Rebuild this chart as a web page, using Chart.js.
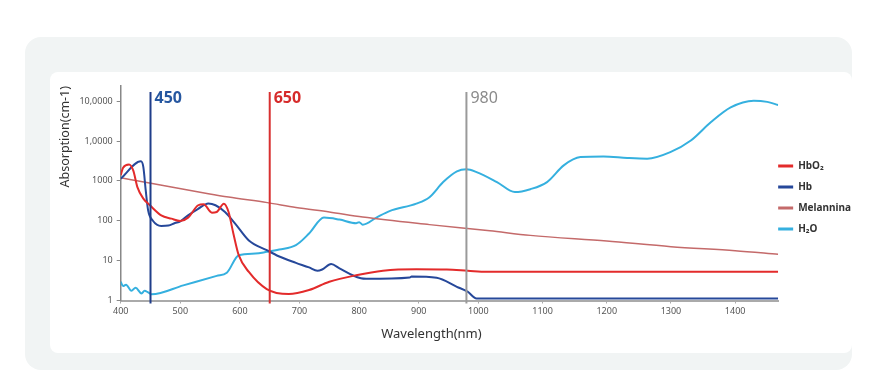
<!DOCTYPE html>
<html>
<head>
<meta charset="utf-8">
<script src="https://cdn.jsdelivr.net/npm/chart.js@4.4.0/dist/chart.umd.min.js"></script>
<style>
    body { margin: 0; background: #fff; font-family: "Noto Sans", sans-serif; }
    .outer { position: absolute; left: 25px; top: 37px; width: 827px; height: 333px; background: #f1f4f4; border-radius: 16px; }
    .inner { position: absolute; left: 50px; top: 72px; width: 802px; height: 281px; background: #fff; border-radius: 8px; }
</style>
</head>
<body>
<div class="outer"></div>
<div class="inner"><canvas id="myChart"></canvas></div>
<script>
    // values (wavelength in nm, absorption in cm-1)
    const hbo2Wavelengths = [400, 404, 414, 421, 428, 438, 449, 468, 485, 500, 513, 530, 539, 553, 561, 573, 581, 589, 598, 615, 645, 682, 716, 750, 795, 840, 896, 947, 982, 1013, 1467];
    const hbo2Values = [1380, 2140, 2580, 1830, 700, 359, 245, 137, 113, 99, 120, 245, 260, 160, 166, 269, 166, 48, 13.7, 5.2, 1.94, 1.45, 1.83, 2.95, 4.3, 5.6, 6.1, 6.0, 5.6, 5.25, 5.25];

    const hbWavelengths = [400, 434, 438, 442, 446, 454, 468, 480, 491, 500, 513, 530, 547, 559, 575, 592, 615, 645, 665, 694, 716, 730, 738, 753, 767, 789, 803, 812, 885, 888, 930, 964, 982, 997, 1467];
    const hbValues = [1135, 3090, 2210, 575, 183, 100, 74, 76, 88, 97, 137, 200, 270, 245, 166, 85, 32, 18.3, 12.9, 8.8, 6.75, 5.55, 6.0, 8.2, 6.4, 4.3, 3.6, 3.5, 3.8, 4.0, 3.7, 2.2, 1.66, 1.13, 1.12];

    const melWavelengths = [400, 446, 547, 581, 646, 694, 750, 806, 918, 1018, 1081, 1200, 1300, 1400, 1467];
    const melValues = [1200, 900, 478, 393, 285, 215, 166, 124, 80, 56, 43, 31, 22.4, 17.8, 14.5];

    const h2oWavelengths = [400, 404, 409, 418, 425, 435, 440, 446, 452, 505, 561, 578, 598, 626, 645, 666, 694, 716, 741, 767, 795, 800, 806, 829, 851, 896, 918, 941, 964, 980, 997, 1029, 1057, 1081, 1107, 1133, 1159, 1195, 1232, 1263, 1299, 1331, 1362, 1393, 1429, 1450, 1467];
    const h2oValues = [2.95, 2.3, 2.5, 1.76, 2.1, 1.5, 1.76, 1.6, 1.43, 2.4, 4.15, 4.95, 13.7, 15, 16.6, 19, 24.4, 47.8, 120, 107, 87, 92, 80, 120, 175, 269, 390, 933, 1730, 1950, 1660, 933, 525, 620, 933, 2450, 3950, 4100, 3750, 3600, 5250, 10300, 29500, 70000, 103000, 96000, 80000];

    const xTicks = [400, 500, 600, 700, 800, 900, 1000, 1100, 1200, 1300, 1400];
    const yTicks = [1, 10, 100, 1000, 10000, 100000];
    const yTickLabels = ['1', '10', '100', '1000', '1,0000', '10,0000'];
    const xTitle = 'Wavelength(nm)';

    const markerValues = [450, 650, 980];
    const markerLabels = ['450', '650', '980'];
    const markerColors = ['#1f3d8a', '#d83030', '#9a9a9a'];
    const markerTextColors = ['#2657a0', '#d62a2a', '#8a8a8a'];
    const markerWeights = ['bold', 'bold', 'normal'];

    // the x axis of the picture is wider per 100 nm after 1000 nm
    const xBreak = 1000;
    const xStretch = 1.077;

    class WarpScale extends Chart.LinearScale {
        warp(v) {
            return v <= xBreak ? v : xBreak + (v - xBreak) * xStretch;
        }
        getPixelForValue(v) {
            if (v === null || v === undefined) return NaN;
            const a = this.warp(this.min);
            const b = this.warp(this.max);
            return this.getPixelForDecimal((this.warp(v) - a) / (b - a));
        }
        getValueForPixel(p) {
            const a = this.warp(this.min);
            const b = this.warp(this.max);
            const w = a + this.getDecimalForPixel(p) * (b - a);
            return w <= xBreak ? w : xBreak + (w - xBreak) / xStretch;
        }
    }
    WarpScale.id = 'warp';
    WarpScale.defaults = Chart.LinearScale.defaults;
    Chart.register(WarpScale);

    function toPoints(xs, ys) {
        return xs.map((x, i) => ({ x: x, y: ys[i] }));
    }

    const markerPlugin = {
        id: 'markers',
        afterLayout(chart) {
            // pull the legend up against the plot like in the picture
            chart.legend.left -= 11;
            chart.legend.right -= 11;
            chart.legend.top -= 22;
            chart.legend.bottom -= 22;
        },
        afterDatasetsDraw(chart) {
            const ctx = chart.ctx;
            const xScale = chart.scales.x;
            const area = chart.chartArea;
            markerValues.forEach((v, i) => {
                const px = xScale.getPixelForValue(v);
                ctx.save();
                ctx.strokeStyle = markerColors[i];
                ctx.lineWidth = 2;
                ctx.beginPath();
                ctx.moveTo(px, area.top + 6);
                ctx.lineTo(px, area.bottom + 3);
                ctx.stroke();
                ctx.fillStyle = markerTextColors[i];
                ctx.font = markerWeights[i] + ' 16px "Noto Sans"';
                ctx.textBaseline = 'top';
                ctx.fillText(markerLabels[i], px + 4, area.top + 4);
                ctx.restore();
            });
            // x axis title sits a little left of centre in the picture
            ctx.save();
            ctx.fillStyle = '#333';
            ctx.font = '13px "Noto Sans"';
            ctx.textAlign = 'center';
            ctx.textBaseline = 'middle';
            ctx.fillText(xTitle, (area.left + area.right) / 2 - 18, area.bottom + 34);
            ctx.restore();
        }
    };

    const ctx = document.getElementById('myChart').getContext('2d');
    new Chart(ctx, {
        type: 'line',
        data: {
            datasets: [
                { label: 'HbO₂', data: toPoints(hbo2Wavelengths, hbo2Values), borderColor: '#e32b2b', backgroundColor: '#e32b2b' },
                { label: 'Hb', data: toPoints(hbWavelengths, hbValues), borderColor: '#26489a', backgroundColor: '#26489a' },
                { label: 'Melannina', data: toPoints(melWavelengths, melValues), borderColor: '#c46a6a', backgroundColor: '#c46a6a', borderWidth: 1.5 },
                { label: 'H₂O', data: toPoints(h2oWavelengths, h2oValues), borderColor: '#35b0df', backgroundColor: '#35b0df' }
            ]
        },
        options: {
            responsive: true,
            maintainAspectRatio: false,
            animation: false,
            layout: { padding: { top: 14, left: 0, right: -20, bottom: 0 } },
            elements: {
                point: { radius: 0 },
                line: { borderWidth: 2, cubicInterpolationMode: 'monotone', fill: false }
            },
            plugins: {
                tooltip: { enabled: false },
                legend: {
                    position: 'right',
                    labels: {
                        usePointStyle: true,
                        pointStyle: 'line',
                        pointStyleWidth: 15,
                        padding: 11,
                        color: '#333',
                        font: { family: 'Noto Sans', size: 10, weight: 'bold' },
                        generateLabels: (chart) => Chart.defaults.plugins.legend.labels.generateLabels(chart)
                            .map(item => Object.assign(item, { lineWidth: 3 }))
                    }
                }
            },
            scales: {
                x: {
                    type: 'warp',
                    min: 400,
                    max: 1467,
                    afterBuildTicks: (scale) => { scale.ticks = xTicks.map(v => ({ value: v })); },
                    afterFit: (scale) => { scale.height = 52.5; },
                    border: { display: true, color: '#aaa', width: 2 },
                    grid: { drawOnChartArea: false, drawTicks: true, tickLength: 3, color: '#aaa' },
                    ticks: {
                        color: '#555',
                        padding: 3,
                        maxRotation: 0,
                        font: { family: 'Noto Sans', size: 9 },
                        callback: (value) => String(value)
                    },
                    title: { display: false }
                },
                y: {
                    type: 'logarithmic',
                    min: 1,
                    max: 240000,
                    afterBuildTicks: (scale) => { scale.ticks = yTicks.map(v => ({ value: v })); },
                    afterFit: (scale) => { scale.width = 70.7; },
                    border: { display: true, color: '#888', width: 1.5 },
                    grid: { drawOnChartArea: false, drawTicks: true, tickLength: 4, color: '#888' },
                    ticks: {
                        color: '#555',
                        padding: 4,
                        font: { family: 'Noto Sans', size: 9 },
                        callback: (value, index) => yTickLabels[index]
                    },
                    title: {
                        display: true,
                        text: 'Absorption(cm-1)',
                        align: 'end',
                        color: '#333',
                        padding: { top: 8, bottom: 4 },
                        font: { family: 'Noto Sans', size: 12.5 }
                    }
                }
            }
        },
        plugins: [markerPlugin]
    });
</script>
</body>
</html>
